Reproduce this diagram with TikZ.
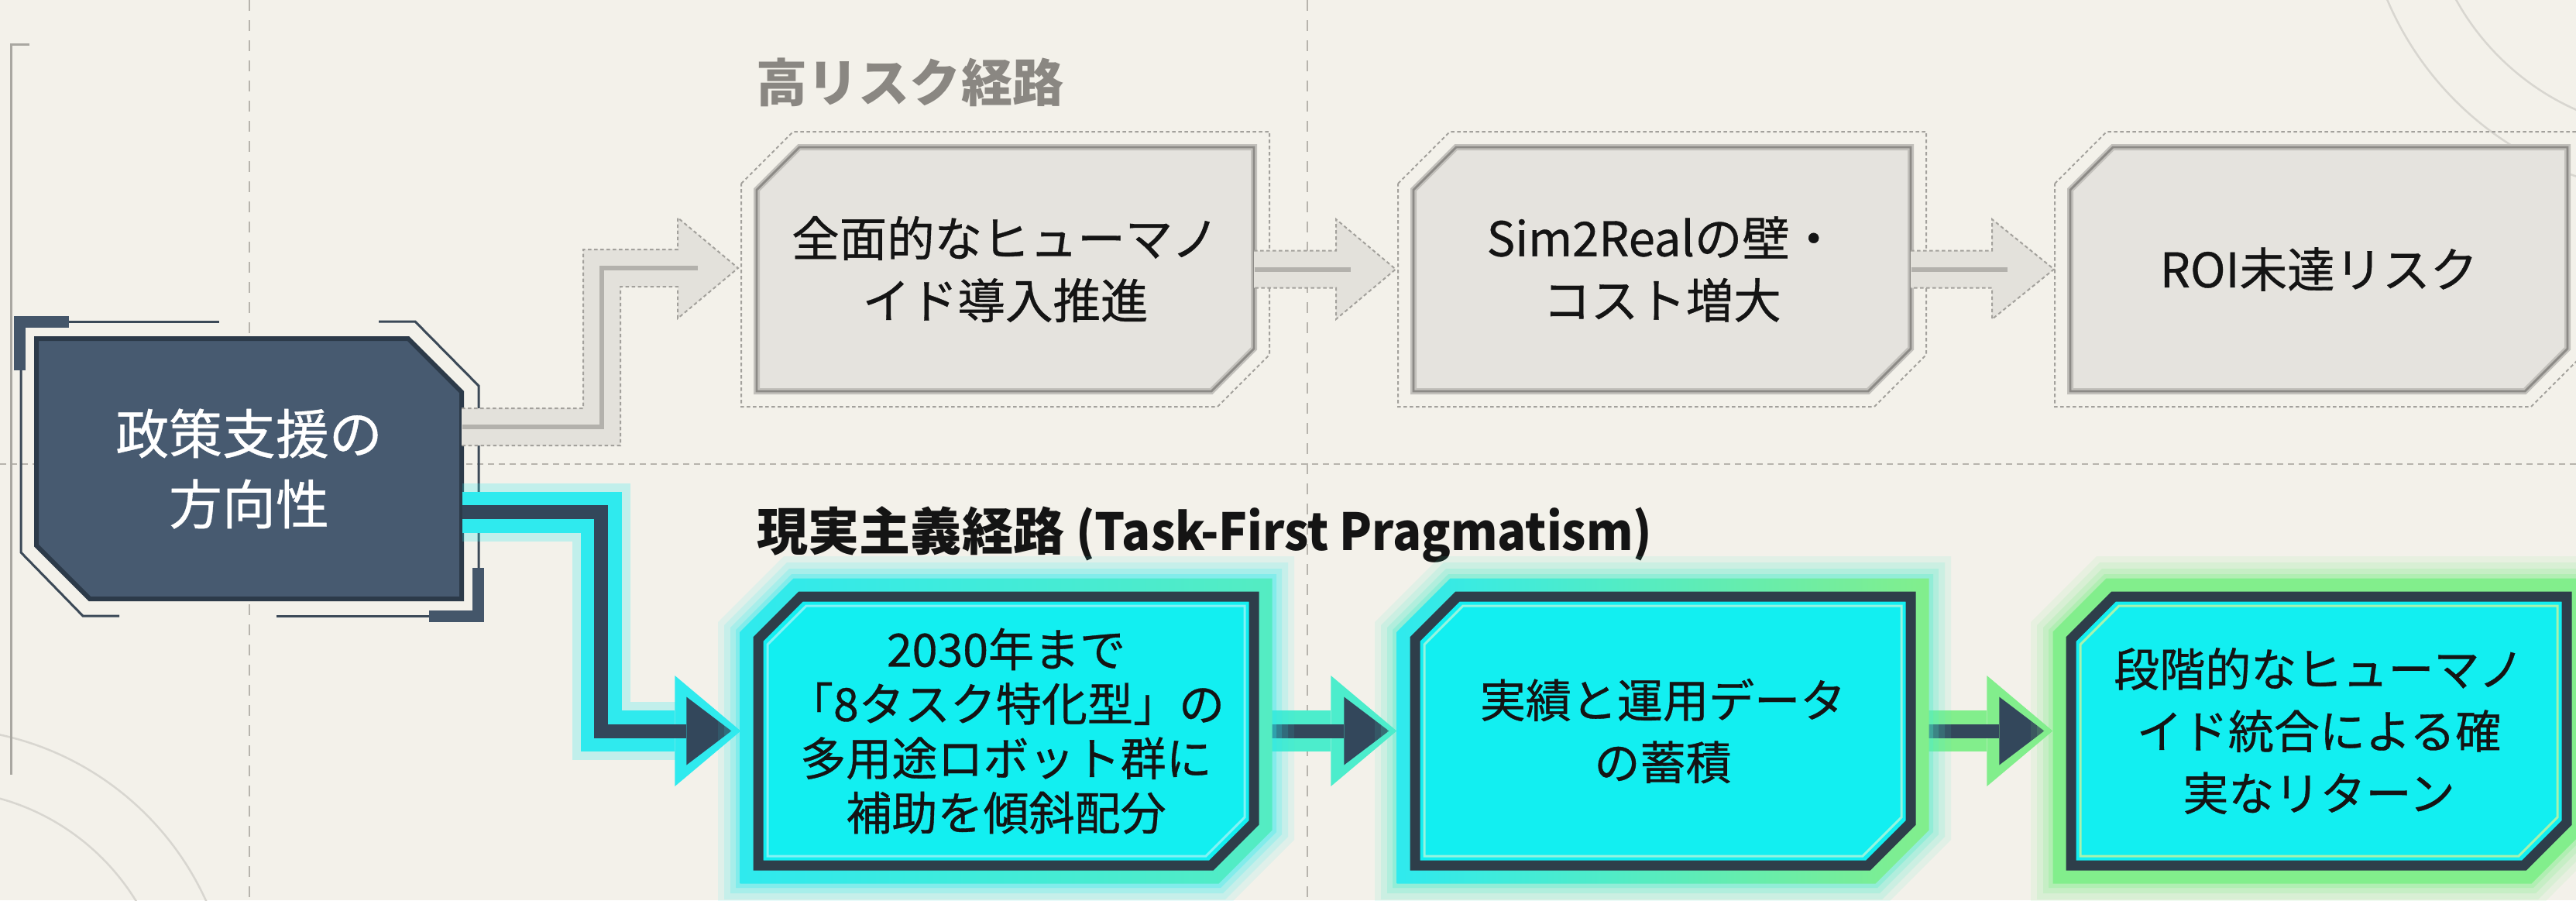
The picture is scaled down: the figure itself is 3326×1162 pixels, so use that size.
\documentclass[tikz,border=0pt]{standalone}
\usepackage{fontspec}
\usepackage{graphicx}
\setmainfont{Noto Sans CJK JP}
\newfontfamily\jpmed[FakeBold=0.6]{Noto Sans CJK JP}
\usetikzlibrary{arrows.meta,calc}
\definecolor{bgc}{HTML}{F3F1EA}
\definecolor{gridc}{HTML}{B7B4AD}
\definecolor{decoc}{HTML}{D8D6D0}
\definecolor{slatef}{HTML}{475A70}
\definecolor{slateb}{HTML}{2C3A49}
\definecolor{framec}{HTML}{44566A}
\definecolor{thinc}{HTML}{3B4957}
\definecolor{grayfill}{HTML}{E5E3DE}
\definecolor{grayline}{HTML}{8C8A86}
\definecolor{graysoft}{HTML}{C2C0BB}
\definecolor{dotc}{HTML}{A3A19C}
\definecolor{arrowfill}{HTML}{E3E1DB}
\definecolor{arrowcore}{HTML}{B3B1AC}
\definecolor{titlegray}{HTML}{8A8782}
\definecolor{aqua}{HTML}{12EFF1}
\definecolor{glowc}{HTML}{2FEAEE}
\definecolor{glowg}{HTML}{82EE8C}
\definecolor{glowm}{HTML}{4CEDCC}
\definecolor{darkb}{HTML}{2E3E4A}
\definecolor{corec}{HTML}{33475B}
\definecolor{txt}{HTML}{141414}
\definecolor{leftline}{HTML}{A9A7A1}

% chamfered box: top-left and bottom-right corners cut
\newcommand\chamTL[6][]{\path[#1] ({#2},{#3+#6}) -- ({#2+#6},{#3}) -- ({#4},{#3}) -- ({#4},{#5-#6}) -- ({#4-#6},{#5}) -- ({#2},{#5}) -- cycle;}
% soft halo around a bottom box: x1 y1 x2 y2 colour
\newcommand\halo[5]{%
  \chamTL[fill=#5, opacity=0.10]{#1-52}{#2-52}{#3+52}{#4+52}{85}
  \chamTL[fill=#5, opacity=0.14]{#1-44}{#2-44}{#3+44}{#4+44}{81}
  \chamTL[fill=#5, opacity=0.20]{#1-36}{#2-36}{#3+36}{#4+36}{76}
  \chamTL[fill=#5, opacity=0.30]{#1-29}{#2-29}{#3+29}{#4+29}{72}}

\tikzset{
  gridline/.style={gridc, line width=0.25mm, dash pattern=on 1.4mm off 1.2mm},
  hgridline/.style={gridc, line width=0.25mm, dash pattern=on 0.8mm off 0.6mm},
  dotline/.style={draw=dotc, line width=0.2mm, dash pattern=on 0.45mm off 0.35mm},
  topbox/.style={align=center, text=txt, inner sep=0pt, minimum width=64.2mm, minimum height=31.5mm,
     font=\jpmed\fontsize{17.5pt}{22.8pt}\selectfont},
  botbox/.style={align=center, text=txt, inner sep=0pt, minimum width=64mm, minimum height=34.7mm},
  bottext/.style={align=center, text=txt, inner sep=0pt},
  grayarrow/.style={fill=arrowfill, dotline},
  graycore/.style={arrowcore, line width=0.6mm, line join=miter},
  outerarrow/.style={line width=5.3mm, line join=miter, -{Triangle[length=8.5mm,width=14.3mm,line width=0pt]}},
  corearrow/.style={corec, line width=1.8mm, line join=miter, -{Triangle[length=5.8mm,width=8.8mm,line width=0pt]}},
  thickframe/.style={framec, line width=1.5mm, line join=miter},
  thinframe/.style={thinc, line width=0.3mm, line join=miter},
}

\begin{document}
\begin{tikzpicture}[x=0.1mm,y=-0.1mm]
\fill[bgc] (0,0) rectangle (3326,1162);
\useasboundingbox (0,0) rectangle (3326,1162);

% decorative faint arcs
\begin{scope}
\clip (0,0) rectangle (3326,1162);
\draw[decoc, line width=0.25mm] (3460,-160) circle[radius=33mm];
\draw[decoc, line width=0.25mm] (3460,-160) circle[radius=41mm];
\draw[decoc, line width=0.25mm] (-80,1320) circle[radius=30mm];
\draw[decoc, line width=0.25mm] (-80,1320) circle[radius=38mm];
\end{scope}

% grid lines
\draw[gridline] (322,0) -- (322,1162);
\draw[gridline] (1688,0) -- (1688,1162);
\draw[hgridline] (0,599) -- (3326,599);

% far-left thin line
\draw[leftline, line width=0.3mm] (38,57) -- (14,57) -- (14,1000);

% titles
\node[anchor=west, inner sep=0pt, text=titlegray, font=\bfseries\fontsize{18.8pt}{20pt}\selectfont] (t1) at (976,106) {高リスク経路};
\node[anchor=west, inner sep=0pt, text=txt, font=\bfseries\fontsize{18.8pt}{20pt}\selectfont] (t2) at (977,690) {現実主義経路 \scalebox{0.93}[1]{(Task-First Pragmatism)}};

% gray top boxes
\foreach \xa/\xb in {977/1619, 1825/2467, 2673/3315}{
  \chamTL[dotline]{\xa-20}{170}{\xb+20}{525}{67}
  \chamTL[fill=grayfill, draw=graysoft, line width=0.8mm]{\xa}{190}{\xb}{505}{55}
  \chamTL[draw=grayline, line width=0.28mm]{\xa}{190}{\xb}{505}{55}
}
\node[topbox] (a) at (1298,347.5) {全面的なヒューマノ\\イド導入推進};
\node[topbox] (b) at (2146,347.5) {Sim2Realの壁・\\コスト増大};
\node[topbox] (c) at (2994,347.5) {ROI未達リスク};

% main node frame
\draw[thinframe] (89,415) -- (283,415);
\draw[thinframe] (489,415) -- (536,415) -- (618,498) -- (618,733);
\draw[thinframe] (27,478) -- (27,713) -- (107,795) -- (154,795);
\draw[thinframe] (357,795) -- (554,795);
\draw[thickframe] (25.5,478) -- (25.5,415.5) -- (89,415.5);
\draw[thickframe] (617,733) -- (617,795) -- (554,795);

% main node
\path[fill=slatef, draw=slateb, line width=0.6mm, line join=miter]
  (47,437) -- (527,437) -- (596,506) -- (596,773) -- (116,773) -- (47,704) -- cycle;
\node[align=center, text=white, inner sep=0pt, minimum width=54.9mm, minimum height=33.6mm,
  font=\jpmed\fontsize{19.6pt}{25.9pt}\selectfont] (main) at (321.5,605) {政策支援の\\方向性};

% gray arrows (high-risk path)
\path[grayarrow] (596,527) -- (753,527) -- (753,322) -- (875,322) -- (875,281) -- (953,346)
   -- (875,411) -- (875,370) -- (801,370) -- (801,575) -- (596,575);
\draw[graycore] ($(main.east)+(0,-54)$) -- (777,551) -- (777,346) -- ($(a.west)+(-75,-1.5)$);

\path[grayarrow] (1619,323.5) -- (1725,323.5) -- (1725,283) -- (1802,347.5) -- (1725,412) -- (1725,371.5) -- (1619,371.5);
\draw[graycore] (a.east) -- ($(b.west)+(-80,0)$);

\path[grayarrow] (2467,323.5) -- (2572,323.5) -- (2572,283) -- (2652,347.5) -- (2572,412) -- (2572,371.5) -- (2467,371.5);
\draw[graycore] (b.east) -- ($(c.west)+(-80,0)$);

% bottom path connectors (drawn under boxes)
\node[botbox] (b1) at (1299,943.5) {};
\node[botbox] (b2) at (2147,943.5) {};
\node[botbox] (b3) at (2994,943.5) {};

\draw[glowc, opacity=0.25, line width=7.5mm, line join=miter] ($(main.east)+(0,56)$) -- (776,661) -- (776,943.5) -- ($(b1.west)+(-90,0)$);
\draw[outerarrow, glowc] ($(main.east)+(0,56)$) -- (776,661) -- (776,943.5) -- ($(b1.west)+(-22,0)$);
\draw[corearrow] ($(main.east)+(0,56)$) -- (776,661) -- (776,943.5) -- ($(b1.west)+(-34,0)$);

\draw[outerarrow, glowm] (b1.east) -- ($(b2.west)+(-23,0)$);
\draw[corearrow] (b1.east) -- ($(b2.west)+(-33,0)$);

\draw[outerarrow, glowg] (b2.east) -- ($(b3.west)+(-23,0)$);
\draw[corearrow] (b2.east) -- ($(b3.west)+(-34,0)$);

% bottom boxes
\halo{979}{770}{1619}{1117}{glowc}
\chamTL[left color=glowc, right color=glowc!55!glowg]{979-23.5}{746.5}{1619+23.5}{1140.5}{69}
\chamTL[fill=aqua, draw=darkb, line width=1.3mm, line join=miter]{979}{770}{1619}{1117}{55}
\chamTL[draw=glowc!60!white, line width=0.3mm]{991}{782}{1607}{1105}{50}

\halo{1827}{770}{2467}{1117}{glowm}
\chamTL[left color=glowc, right color=glowg]{1827-23.5}{746.5}{2467+23.5}{1140.5}{69}
\chamTL[fill=aqua, draw=darkb, line width=1.3mm, line join=miter]{1827}{770}{2467}{1117}{55}
\chamTL[draw=glowm!60!white, line width=0.3mm]{1839}{782}{2455}{1105}{50}

\halo{2674}{770}{3314}{1117}{glowg}
\chamTL[fill=glowg]{2674-23.5}{746.5}{3314+23.5}{1140.5}{69}
\chamTL[fill=aqua, draw=darkb, line width=1.3mm, line join=miter]{2674}{770}{3314}{1117}{55}
\chamTL[draw=glowg!70!white, line width=0.3mm]{2686}{782}{3302}{1105}{50}

% bottom texts
\node[bottext, font=\jpmed\fontsize{16.8pt}{20pt}\selectfont] (b1t) at (b1.center) {2030年まで\\「8タスク特化型」の\\多用途ロボット群に\\補助を傾斜配分};
\node[bottext, font=\jpmed\fontsize{16.8pt}{22.8pt}\selectfont] (b2t) at (b2.center) {実績と運用データ\\の蓄積};
\node[bottext, font=\jpmed\fontsize{16.8pt}{22.8pt}\selectfont] (b3t) at (b3.center) {段階的なヒューマノ\\イド統合による確\\実なリターン};
\end{tikzpicture}
\end{document}
